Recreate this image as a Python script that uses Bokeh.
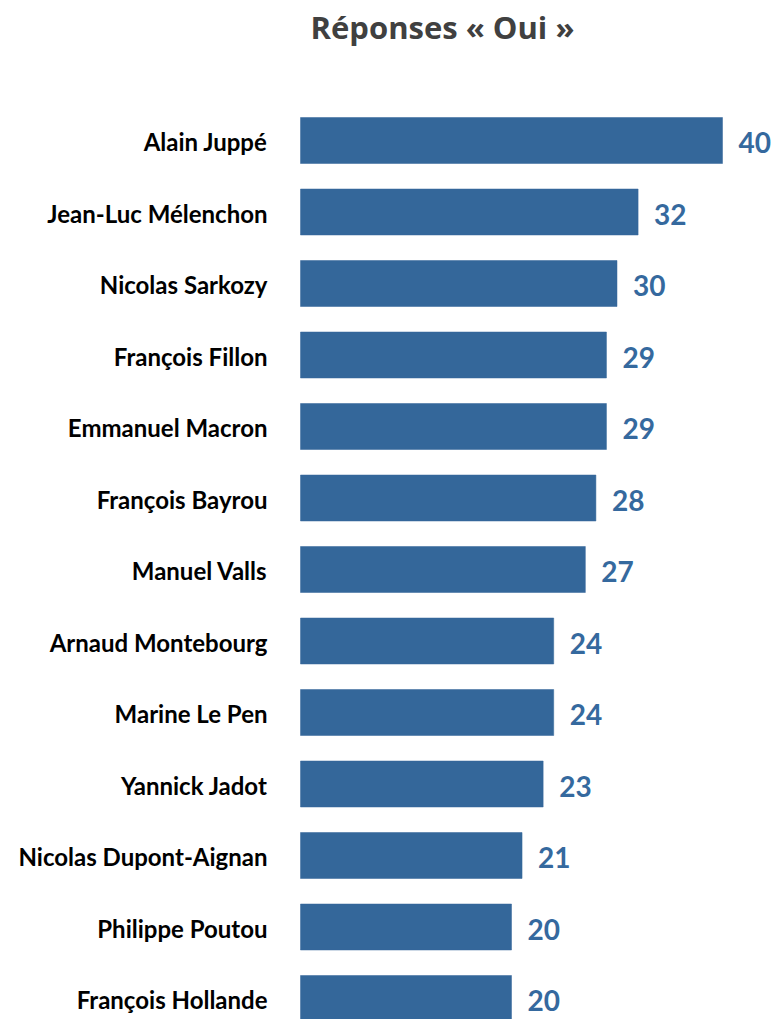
from bokeh.plotting import figure
from bokeh.models import ColumnDataSource, Range1d, Label
from bokeh.core.properties import value
from bokeh.embed import file_html
from bokeh.resources import INLINE

names = ["Alain Juppé", "Jean-Luc Mélenchon", "Nicolas Sarkozy", "François Fillon",
         "Emmanuel Macron", "François Bayrou", "Manuel Valls", "Arnaud Montebourg",
         "Marine Le Pen", "Yannick Jadot", "Nicolas Dupont-Aignan", "Philippe Poutou",
         "François Hollande"]
values = [40, 32, 30, 29, 29, 28, 27, 24, 24, 23, 21, 20, 20]
title_text = "Réponses « Oui »"

W, H = 773, 1019
x0_px = 300.0          # canvas x of value 0
scale = 10.55          # px per unit
row0_px = 140.0        # canvas y of first row center
row_px = 71.5          # px per row

src = ColumnDataSource(dict(
    idx=list(range(len(names))),
    name=names,
    val=values,
    lab=[str(v) for v in values],
))

p = figure(width=W, height=H, output_backend="svg", toolbar_location=None,
           x_range=Range1d(-x0_px / scale, (W - x0_px) / scale),
           y_range=Range1d((H - row0_px) / row_px, -row0_px / row_px),
           min_border=0, min_border_left=0, min_border_right=0,
           min_border_top=0, min_border_bottom=0)
p.axis.visible = False
p.grid.visible = False
p.outline_line_color = None
p.background_fill_color = "white"
p.border_fill_color = "white"

bar_color = "#34679A"
p.hbar(y="idx", left=0, right="val", height=46 / row_px, source=src,
       fill_color=bar_color, line_color=bar_color, line_width=0.5)

p.text(x=0, y="idx", text="name", source=src, x_offset=-33, y_offset=1,
       text_align="right", text_baseline="middle",
       text_font=value("Lato"), text_font_style="bold", text_font_size="24px",
       text_color="#000000")

p.text(x="val", y="idx", text="lab", source=src, x_offset=16, y_offset=2,
       text_align="left", text_baseline="middle",
       text_font=value("Lato"), text_font_style="bold", text_font_size="28px",
       text_color="#35699E")

p.add_layout(Label(x=442, y=H - 26, x_units="screen", y_units="screen",
                   text=title_text, text_align="center", text_baseline="alphabetic",
                   text_font="Open Sans", text_font_style="bold",
                   text_font_size="31px", text_color="#404040"))

open("out.html", "w").write(file_html(p, INLINE))
